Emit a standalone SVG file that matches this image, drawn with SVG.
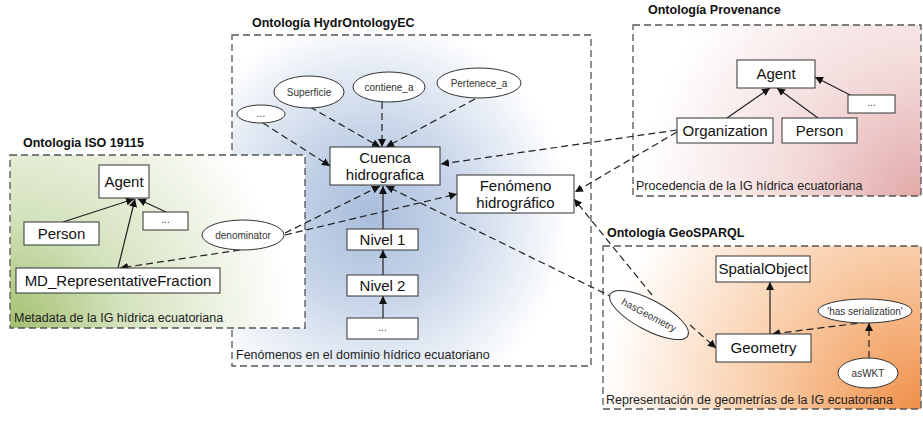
<svg xmlns="http://www.w3.org/2000/svg" width="923" height="422" viewBox="0 0 923 422">
<style>
text{font-family:"Liberation Sans",Arial,sans-serif;fill:#111}
.title{font-size:12.5px;font-weight:bold}
.lbl{font-size:12.5px;fill:#222}
.bx{fill:#fff;stroke:#333;stroke-width:1}
.el{fill:#fff;stroke:#333;stroke-width:1}
.t15{font-size:15px;text-anchor:middle}
.t10{font-size:10px;text-anchor:middle;fill:#333}
.frame{stroke:#555;stroke-width:1.3;stroke-dasharray:7 4}
.d{fill:none;stroke:#222;stroke-width:1.2;stroke-dasharray:7 4;marker-end:url(#ah)}
.s{fill:none;stroke:#222;stroke-width:1.2;marker-end:url(#ah)}
</style>
<defs>
<marker id="ah" viewBox="0 0 10 10" refX="10" refY="5" markerWidth="8" markerHeight="8" markerUnits="userSpaceOnUse" orient="auto">
<path d="M0,0 L10,5 L0,10 z" fill="#111"/>
</marker>
<radialGradient id="gBlue" gradientUnits="userSpaceOnUse" cx="370" cy="215" r="200">
<stop offset="0" stop-color="#a9bddb"/>
<stop offset="0.45" stop-color="#c9d6e9"/>
<stop offset="1" stop-color="#ffffff"/>
</radialGradient>
<radialGradient id="gGreen" gradientUnits="userSpaceOnUse" cx="12" cy="328" r="280">
<stop offset="0" stop-color="#a4c070"/>
<stop offset="0.4" stop-color="#d4e2bd"/>
<stop offset="1" stop-color="#ffffff"/>
</radialGradient>
<radialGradient id="gPink" gradientUnits="userSpaceOnUse" cx="921" cy="196" r="280">
<stop offset="0" stop-color="#e2a9a9"/>
<stop offset="0.45" stop-color="#f3dada"/>
<stop offset="1" stop-color="#ffffff"/>
</radialGradient>
<radialGradient id="gOrange" gradientUnits="userSpaceOnUse" cx="921" cy="409" r="320">
<stop offset="0" stop-color="#f0904a"/>
<stop offset="0.45" stop-color="#f8c8a0"/>
<stop offset="1" stop-color="#ffffff"/>
</radialGradient>
</defs>
<rect width="923" height="422" fill="#fff"/>

<g id="frame-hydro">
<rect x="232" y="35" width="359" height="331" fill="url(#gBlue)" class="frame"/>
<text class="title" x="252" y="27">Ontología HydrOntologyEC</text>
<text class="lbl" x="236" y="359">Fenómenos en el dominio hídrico ecuatoriano</text>
</g>
<g id="frame-prov">
<rect x="633" y="25" width="288" height="171" fill="url(#gPink)" class="frame"/>
<text class="title" x="648" y="14">Ontología Provenance</text>
<text class="lbl" x="636" y="190">Procedencia de la IG hídrica ecuatoriana</text>
</g>
<g id="frame-geo">
<rect x="603" y="246" width="318" height="163" fill="url(#gOrange)" class="frame"/>
<text class="title" x="607" y="237">Ontología GeoSPARQL</text>
<text class="lbl" x="606" y="404">Representación de geometrías de la IG ecuatoriana</text>
</g>
<g id="frame-iso">
<rect x="10" y="155" width="295" height="173" fill="url(#gGreen)" class="frame"/>
<text class="title" x="23" y="147">Ontologia ISO 19115</text>
<text class="lbl" x="14" y="322">Metadata de la IG hídrica ecuatoriana</text>
</g>

<g id="connectors">
<line class="s" x1="63" y1="222" x2="134" y2="199"/>
<line class="s" x1="118" y1="268" x2="135" y2="199"/>
<line class="s" x1="166" y1="212" x2="138" y2="199"/>
<line class="d" x1="240" y1="250" x2="120" y2="268"/>
<line class="d" x1="263" y1="123" x2="330" y2="166"/>
<line class="d" x1="310" y1="107" x2="380" y2="147"/>
<line class="d" x1="382" y1="102" x2="382" y2="147"/>
<line class="d" x1="475" y1="99" x2="386" y2="147"/>
<line class="d" x1="285" y1="233" x2="380" y2="186"/>
<line class="d" x1="285" y1="235" x2="457" y2="194"/>
<line class="s" x1="383" y1="229" x2="383" y2="186"/>
<line class="s" x1="383" y1="275" x2="383" y2="250"/>
<line class="s" x1="383" y1="318" x2="383" y2="296"/>
<line class="d" x1="614" y1="298" x2="386" y2="186"/>
<line class="d" x1="652" y1="295" x2="574" y2="199"/>
<line class="d" x1="677" y1="130" x2="441" y2="164"/>
<line class="d" x1="677" y1="132" x2="575" y2="192"/>
<line class="s" x1="727" y1="118" x2="770" y2="88"/>
<line class="s" x1="818" y1="118" x2="777" y2="88"/>
<line class="s" x1="852" y1="96" x2="815" y2="77"/>
<line class="d" x1="690" y1="325" x2="716" y2="348"/>
<line class="s" x1="770" y1="334" x2="770" y2="282"/>
<line class="d" x1="868" y1="322" x2="772" y2="334"/>
<line class="d" x1="869" y1="358" x2="869" y2="323"/>
</g>

<g id="iso-agent"><rect class="bx" x="99" y="165" width="50" height="33"/><text class="t15" x="124" y="187">Agent</text></g>
<g id="iso-person"><rect class="bx" x="24" y="222" width="75" height="23"/><text class="t15" x="61.5" y="239">Person</text></g>
<g id="iso-more"><rect class="bx" x="143" y="212" width="45" height="18"/><text class="t10" x="165.5" y="223">...</text></g>
<g id="iso-md"><rect class="bx" x="16" y="268" width="204" height="25"/><text class="t15" x="118" y="286">MD_RepresentativeFraction</text></g>
<g id="iso-denominator"><ellipse class="el" cx="243" cy="235" rx="41" ry="15"/><text class="t10" x="243" y="238.5">denominator</text></g>

<g id="h-more"><ellipse class="el" cx="261" cy="114" rx="24" ry="9"/><text class="t10" x="261" y="117">...</text></g>
<g id="h-superficie"><ellipse class="el" cx="309" cy="92" rx="35" ry="16"/><text class="t10" x="309" y="95.5">Superficie</text></g>
<g id="h-contiene"><ellipse class="el" cx="389" cy="87" rx="36" ry="15"/><text class="t10" x="389" y="90.5">contiene_a</text></g>
<g id="h-pertenece"><ellipse class="el" cx="479" cy="83" rx="42" ry="15"/><text class="t10" x="479" y="86.5">Pertenece_a</text></g>
<g id="h-cuenca"><rect class="bx" x="330" y="147" width="110" height="38"/><text class="t15" x="385" y="163">Cuenca</text><text class="t15" x="385" y="180">hidrografica</text></g>
<g id="h-fenomeno"><rect class="bx" x="457" y="175" width="117" height="38"/><text class="t15" x="515.5" y="191">Fenómeno</text><text class="t15" x="515.5" y="208">hidrográfico</text></g>
<g id="h-nivel1"><rect class="bx" x="347" y="229" width="71" height="21"/><text class="t15" x="382.5" y="245">Nivel 1</text></g>
<g id="h-nivel2"><rect class="bx" x="347" y="275" width="71" height="21"/><text class="t15" x="382.5" y="291">Nivel 2</text></g>
<g id="h-nmore"><rect class="bx" x="347" y="318" width="71" height="21"/><text class="t10" x="382.5" y="331">...</text></g>

<g id="p-agent"><rect class="bx" x="737" y="60" width="78" height="28"/><text class="t15" x="776" y="79">Agent</text></g>
<g id="p-organization"><rect class="bx" x="677" y="118" width="96" height="25"/><text class="t15" x="725" y="136">Organization</text></g>
<g id="p-person"><rect class="bx" x="782" y="118" width="75" height="25"/><text class="t15" x="819.5" y="136">Person</text></g>
<g id="p-more"><rect class="bx" x="848" y="95" width="47" height="18"/><text class="t10" x="871.5" y="106">...</text></g>

<g id="g-spatial"><rect class="bx" x="716" y="256" width="94" height="26"/><text class="t15" x="763" y="274">SpatialObject</text></g>
<g id="g-geometry"><rect class="bx" x="716" y="334" width="95" height="28"/><text class="t15" x="763.5" y="353">Geometry</text></g>
<g id="g-hasser"><ellipse class="el" cx="865" cy="311" rx="47" ry="12"/><text class="t10" x="865" y="314.5">'has serialization'</text></g>
<g id="g-aswkt"><ellipse class="el" cx="868" cy="373" rx="30" ry="15"/><text class="t10" x="868" y="376.5">asWKT</text></g>
<g id="g-hasgeometry"><ellipse class="el" cx="649" cy="315" rx="44" ry="15" transform="rotate(28 649 315)"/><text class="t10" x="649" y="318.5" transform="rotate(28 649 315)">hasGeometry</text></g>
</svg>
